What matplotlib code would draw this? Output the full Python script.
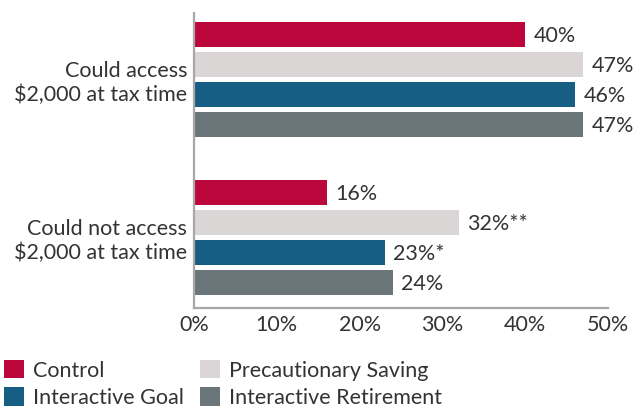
import numpy as np
import matplotlib
matplotlib.use("Agg")
import matplotlib.pyplot as plt
from matplotlib.patches import Patch

plt.rcParams['font.family'] = ['Lato', 'DejaVu Sans']

# Share of participants who saved at tax time, by treatment arm
groups = ["Could access\n$2,000 at tax time", "Could not access\n$2,000 at tax time"]
arms = ["Control", "Precautionary Saving", "Interactive Goal", "Interactive Retirement"]
control = [40, 16]
precautionary = [47, 32]
goal = [46, 23]
retirement = [47, 24]
# significance markers shown after the value labels
marks_precautionary = ["", "**"]
marks_goal = ["", "*"]

colors = ["#BC073D", "#D9D6D5", "#165E83", "#6A767A"]
text_color = "#333333"
spine_color = "#A8A8A8"

series = [control, precautionary, goal, retirement]
marks = [["", ""], marks_precautionary, marks_goal, ["", ""]]

fs = 15.5

fig = plt.figure(figsize=(6.41, 4.09), dpi=100)
ax = fig.add_axes([0.3027, 0.247, 0.646, 0.721])

pitch = 0.19
height = 0.162
offsets = (np.arange(4) - 1.5) * pitch
centers = np.arange(len(groups))

for i, (vals, color) in enumerate(zip(series, colors)):
    y = centers + offsets[i]
    ax.barh(y, vals, height=height, color=color, label=arms[i])
    for yy, v, m in zip(y, vals, marks[i]):
        ax.annotate(f"{v}%{m}", xy=(v, yy), xytext=(6, -1), textcoords="offset points",
                    va="center", ha="left", fontsize=fs, color=text_color)

ax.set_xlim(0, 50)
ax.set_ylim(1 + 0.446, -0.421)
ax.set_yticks(centers)
ax.set_yticklabels(groups, fontsize=fs, color=text_color, linespacing=1.2)
ax.set_xticks(np.arange(0, 51, 10))
ax.set_xticklabels([f"{t}%" for t in range(0, 51, 10)], fontsize=fs, color=text_color)
ax.tick_params(axis="both", length=0)
ax.tick_params(axis="y", pad=5)
ax.tick_params(axis="x", pad=5)

for side in ["top", "right"]:
    ax.spines[side].set_visible(False)
for side in ["left", "bottom"]:
    ax.spines[side].set_color(spine_color)
    ax.spines[side].set_linewidth(1.6)

handles = [Patch(facecolor=c, label=a) for c, a in zip(colors, arms)]
# order so that the two columns read Control / Interactive Goal, Precautionary / Retirement
order = [0, 2, 1, 3]
fig.legend([handles[k] for k in order], [arms[k] for k in order],
           loc="upper left", bbox_to_anchor=(0.006, 0.12), ncol=2, frameon=False,
           fontsize=fs, handlelength=0.95, handleheight=0.95, handletextpad=0.4,
           labelspacing=0.3, columnspacing=0.75, borderaxespad=0, borderpad=0,
           labelcolor=text_color)

fig.savefig("out.png", dpi=100)
